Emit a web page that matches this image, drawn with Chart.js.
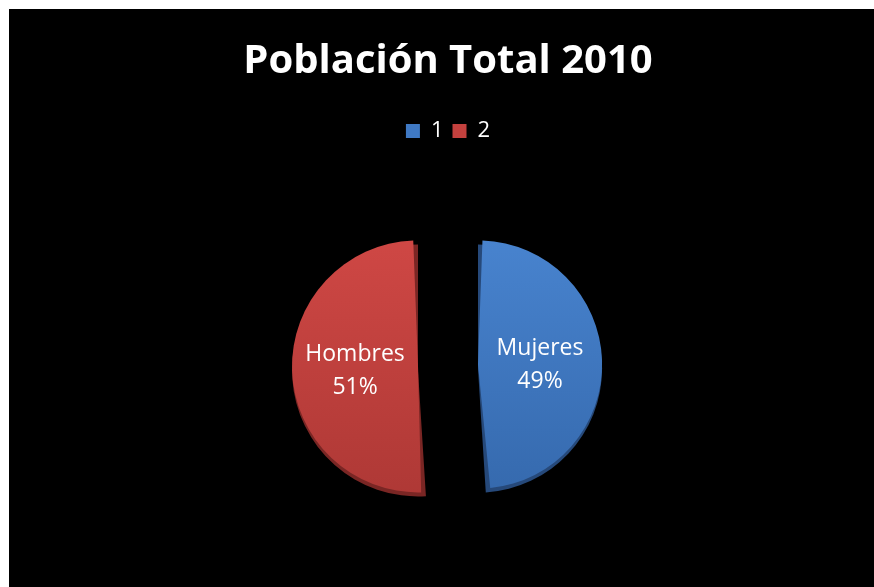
<!DOCTYPE html>
<html>
<head>
<meta charset="utf-8">
<script src="https://cdn.jsdelivr.net/npm/chart.js@4.4.1/dist/chart.umd.min.js"></script>
<style>
  html, body { margin: 0; padding: 0; background: #fff; }
  #wrap { position: absolute; left: 9px; top: 9px; width: 865px; height: 578px; background: #000; }
</style>
</head>
<body>
<div id="wrap"><canvas id="chart"></canvas></div>
<script>
const legendLabels = ["1", "2"];
const sliceNames = ["Mujeres", "Hombres"];
const sliceValues = [49, 51];

// top / bottom shades for each slice, plus the darker rim colour
const topColors = ["#4a86d2", "#d24946"];
const bottomColors = ["#3265a8", "#a93633"];
const rimColors = ["#26497a", "#7a2624"];
const legendColors = ["#3f79c4", "#c4413e"];

const FONT = "'Open Sans', 'Liberation Sans', sans-serif";

// dark extrusion under each slice so the pie reads as a thick disc
const rimPlugin = {
  id: "rim",
  beforeDatasetsDraw(chart) {
    const ctx = chart.ctx;
    const meta = chart.getDatasetMeta(0);
    meta.data.forEach((arc, i) => {
      const { x, y, startAngle, endAngle, outerRadius, circumference } = arc;
      const off = (arc.options.offset || 0) / 4;
      const half = (startAngle + endAngle) / 2;
      const fix = 1 - Math.sin(Math.min(Math.PI, circumference || 0));
      const r = outerRadius + off * fix;
      const cx = x + Math.cos(half) * off;
      const cy = y + Math.sin(half) * off;
      ctx.save();
      ctx.fillStyle = rimColors[i];
      ctx.beginPath();
      ctx.moveTo(cx, cy + 4);
      ctx.arc(cx, cy + 4, r, startAngle, endAngle);
      ctx.closePath();
      ctx.fill();
      ctx.restore();
    });
  },
};

// category name and percentage written inside each slice
const sliceLabelPlugin = {
  id: "sliceLabels",
  afterDatasetsDraw(chart) {
    const ctx = chart.ctx;
    const meta = chart.getDatasetMeta(0);
    const total = sliceValues.reduce((a, b) => a + b, 0);
    meta.data.forEach((arc, i) => {
      const { x, y, startAngle, endAngle, outerRadius, circumference } = arc;
      const off = (arc.options.offset || 0) / 4;
      const half = (startAngle + endAngle) / 2;
      const fix = 1 - Math.sin(Math.min(Math.PI, circumference || 0));
      const r = outerRadius + off * fix;
      const d = off + r * 0.5;
      const lx = x + Math.cos(half) * d;
      const ly = y + Math.sin(half) * d;
      const pct = Math.round((sliceValues[i] / total) * 100) + "%";
      ctx.save();
      ctx.fillStyle = "#fff";
      ctx.font = "23px " + FONT;
      ctx.textAlign = "center";
      ctx.textBaseline = "middle";
      ctx.fillText(sliceNames[i], lx, ly - 14);
      ctx.fillText(pct, lx, ly + 19);
      ctx.restore();
    });
  },
};

function sliceGradient(context) {
  const chart = context.chart;
  const area = chart.chartArea;
  if (!area) return legendColors[context.dataIndex];
  const i = context.dataIndex;
  const g = chart.ctx.createLinearGradient(0, area.top + 60, 0, area.bottom - 40);
  g.addColorStop(0, topColors[i]);
  g.addColorStop(1, bottomColors[i]);
  return g;
}

new Chart(document.getElementById("chart"), {
  type: "pie",
  data: {
    labels: legendLabels,
    datasets: [
      {
        data: sliceValues,
        backgroundColor: sliceGradient,
        borderWidth: 0,
        offset: 120,
        radius: 96,
      },
    ],
  },
  options: {
    responsive: true,
    maintainAspectRatio: false,
    animation: false,
    layout: { padding: { left: 13, bottom: 8 } },
    plugins: {
      title: {
        display: true,
        text: "Población Total 2010",
        color: "#fff",
        font: { size: 40, weight: "bold", family: FONT },
        padding: { top: 29, bottom: 25 },
      },
      legend: {
        display: true,
        position: "top",
        labels: {
          color: "#fff",
          font: { size: 22, family: FONT },
          boxWidth: 14,
          boxHeight: 14,
          padding: 9,
          generateLabels(chart) {
            return legendLabels.map((text, i) => ({
              text,
              fillStyle: legendColors[i],
              strokeStyle: legendColors[i],
              lineWidth: 0,
              fontColor: "#fff",
              hidden: false,
              index: i,
            }));
          },
        },
      },
      tooltip: { enabled: false },
    },
  },
  plugins: [rimPlugin, sliceLabelPlugin],
});
</script>
</body>
</html>
